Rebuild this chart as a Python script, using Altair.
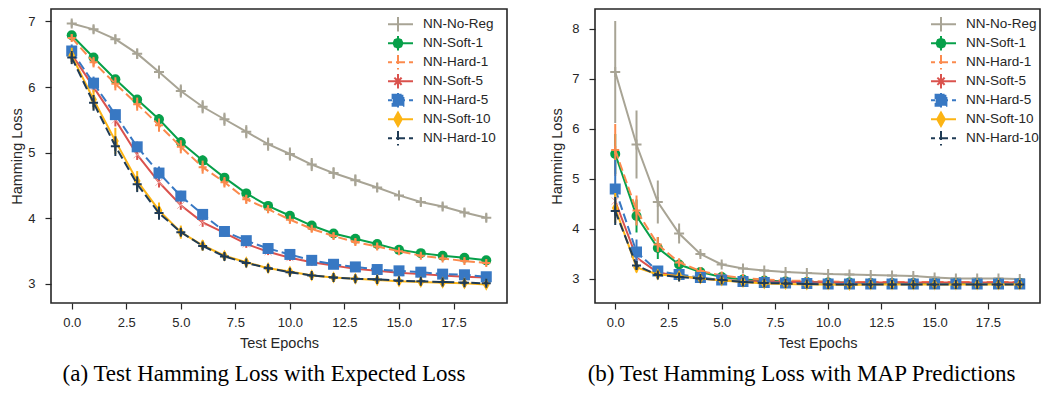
import altair as alt
import pandas as pd

series = ["NN-No-Reg", "NN-Soft-1", "NN-Hard-1", "NN-Soft-5", "NN-Hard-5", "NN-Soft-10", "NN-Hard-10"]
epochs = list(range(20))

# ---- panel (a): expected loss ----
a_noreg = [6.97, 6.88, 6.73, 6.51, 6.23, 5.94, 5.70, 5.51, 5.32, 5.13, 4.98, 4.82, 4.69, 4.58, 4.47, 4.35, 4.25, 4.18, 4.09, 4.01]
a_soft1 = [6.79, 6.45, 6.12, 5.81, 5.51, 5.16, 4.88, 4.62, 4.38, 4.19, 4.04, 3.89, 3.77, 3.69, 3.61, 3.52, 3.47, 3.43, 3.40, 3.36]
a_hard1 = [6.75, 6.38, 6.05, 5.74, 5.42, 5.09, 4.78, 4.55, 4.29, 4.14, 3.98, 3.84, 3.73, 3.64, 3.57, 3.50, 3.43, 3.39, 3.35, 3.32]
a_soft5 = [6.50, 6.00, 5.50, 4.97, 4.55, 4.20, 3.94, 3.78, 3.61, 3.49, 3.40, 3.33, 3.28, 3.23, 3.20, 3.17, 3.15, 3.13, 3.11, 3.10]
a_hard5 = [6.55, 6.06, 5.58, 5.09, 4.69, 4.34, 4.06, 3.80, 3.66, 3.54, 3.45, 3.36, 3.30, 3.26, 3.22, 3.20, 3.18, 3.15, 3.14, 3.11]
a_soft10 = [6.48, 5.81, 5.18, 4.57, 4.12, 3.79, 3.59, 3.43, 3.33, 3.24, 3.19, 3.13, 3.10, 3.08, 3.06, 3.04, 3.03, 3.02, 3.01, 2.99]
a_hard10 = [6.45, 5.76, 5.10, 4.52, 4.08, 3.79, 3.58, 3.42, 3.32, 3.24, 3.18, 3.13, 3.10, 3.08, 3.07, 3.05, 3.04, 3.03, 3.02, 3.01]

a_noreg_err = [0.05, 0.06, 0.07, 0.08, 0.10, 0.10, 0.10, 0.10, 0.10, 0.10, 0.10, 0.10, 0.09, 0.09, 0.07, 0.07, 0.06, 0.06, 0.06, 0.06]
a_soft1_err = [0.04, 0.05, 0.06, 0.07, 0.08, 0.08, 0.08, 0.07, 0.07, 0.06, 0.06, 0.05, 0.05, 0.05, 0.04, 0.04, 0.04, 0.04, 0.04, 0.04]
a_hard1_err = [0.05, 0.08, 0.10, 0.10, 0.10, 0.10, 0.10, 0.08, 0.07, 0.06, 0.06, 0.05, 0.05, 0.05, 0.05, 0.04, 0.04, 0.04, 0.04, 0.04]
a_soft5_err = [0.05, 0.08, 0.10, 0.08, 0.08, 0.07, 0.07, 0.06, 0.06, 0.05, 0.05, 0.05, 0.04, 0.04, 0.04, 0.04, 0.04, 0.04, 0.04, 0.04]
a_hard5_err = [0.10, 0.10, 0.08, 0.08, 0.10, 0.08, 0.06, 0.06, 0.06, 0.05, 0.05, 0.05, 0.04, 0.04, 0.04, 0.04, 0.04, 0.04, 0.04, 0.04]
a_soft10_err = [0.12, 0.15, 0.20, 0.15, 0.12, 0.10, 0.08, 0.06, 0.06, 0.05, 0.05, 0.05, 0.04, 0.04, 0.04, 0.04, 0.04, 0.04, 0.04, 0.04]
a_hard10_err = [0.10, 0.12, 0.15, 0.12, 0.10, 0.06, 0.05, 0.05, 0.04, 0.04, 0.04, 0.04, 0.04, 0.04, 0.04, 0.04, 0.04, 0.04, 0.04, 0.04]

# ---- panel (b): MAP predictions ----
b_noreg = [7.13, 5.68, 4.53, 3.90, 3.49, 3.28, 3.20, 3.16, 3.13, 3.11, 3.09, 3.08, 3.07, 3.06, 3.05, 3.02, 3.00, 3.00, 3.00, 2.99]
b_soft1 = [5.49, 4.25, 3.61, 3.28, 3.13, 3.03, 2.98, 2.96, 2.94, 2.93, 2.92, 2.92, 2.91, 2.91, 2.91, 2.91, 2.91, 2.91, 2.91, 2.91]
b_hard1 = [5.57, 4.36, 3.68, 3.32, 3.15, 3.06, 3.01, 2.98, 2.96, 2.95, 2.94, 2.93, 2.93, 2.93, 2.93, 2.93, 2.93, 2.93, 2.93, 2.93]
b_soft5 = [4.55, 3.42, 3.12, 3.05, 3.00, 2.97, 2.95, 2.94, 2.93, 2.93, 2.92, 2.92, 2.92, 2.92, 2.92, 2.92, 2.92, 2.92, 2.92, 2.92]
b_hard5 = [4.79, 3.53, 3.15, 3.08, 3.02, 2.97, 2.94, 2.92, 2.91, 2.90, 2.89, 2.89, 2.89, 2.89, 2.89, 2.89, 2.89, 2.89, 2.89, 2.89]
b_soft10 = [4.41, 3.22, 3.08, 3.05, 3.00, 2.96, 2.93, 2.90, 2.89, 2.88, 2.88, 2.87, 2.88, 2.88, 2.88, 2.88, 2.88, 2.88, 2.88, 2.88]
b_hard10 = [4.35, 3.26, 3.07, 3.03, 3.00, 2.97, 2.93, 2.91, 2.90, 2.89, 2.88, 2.88, 2.88, 2.88, 2.88, 2.88, 2.88, 2.88, 2.88, 2.88]

b_noreg_err = [1.02, 0.68, 0.43, 0.20, 0.05, 0.04, 0.03, 0.03, 0.03, 0.03, 0.03, 0.03, 0.03, 0.03, 0.03, 0.03, 0.03, 0.03, 0.03, 0.03]
b_soft1_err = [0.40, 0.33, 0.22, 0.10, 0.05, 0.04, 0.03, 0.03, 0.03, 0.03, 0.03, 0.03, 0.03, 0.03, 0.03, 0.03, 0.03, 0.03, 0.03, 0.03]
b_hard1_err = [0.52, 0.30, 0.15, 0.08, 0.05, 0.04, 0.03, 0.03, 0.03, 0.03, 0.03, 0.03, 0.03, 0.03, 0.03, 0.03, 0.03, 0.03, 0.03, 0.03]
b_soft5_err = [0.15, 0.10, 0.05, 0.04, 0.03, 0.03, 0.03, 0.03, 0.03, 0.03, 0.03, 0.03, 0.03, 0.03, 0.03, 0.03, 0.03, 0.03, 0.03, 0.03]
b_hard5_err = [0.58, 0.25, 0.08, 0.05, 0.04, 0.03, 0.03, 0.03, 0.03, 0.03, 0.03, 0.03, 0.03, 0.03, 0.03, 0.03, 0.03, 0.03, 0.03, 0.03]
b_soft10_err = [0.30, 0.10, 0.05, 0.04, 0.03, 0.03, 0.03, 0.03, 0.03, 0.03, 0.03, 0.03, 0.03, 0.03, 0.03, 0.03, 0.03, 0.03, 0.03, 0.03]
b_hard10_err = [0.28, 0.08, 0.05, 0.04, 0.03, 0.03, 0.03, 0.03, 0.03, 0.03, 0.03, 0.03, 0.03, 0.03, 0.03, 0.03, 0.03, 0.03, 0.03, 0.03]

x_ticks = [0.0, 2.5, 5.0, 7.5, 10.0, 12.5, 15.0, 17.5]
a_yticks = [3, 4, 5, 6, 7]
b_yticks = [3, 4, 5, 6, 7, 8]
caption_a = "(a) Test Hamming Loss with Expected Loss"
caption_b = "(b) Test Hamming Loss with MAP Predictions"

# ---- styles ----
colors = ["#a8a495", "#07a04a", "#fb8a4d", "#da524d", "#3878c3", "#fcb414", "#1f3b55"]
dashes = [None, None, [9, 4], None, [9, 4], None, [9, 4]]
PLUS = "M-1,0L1,0M0,-1L0,1"
XSHAPE = "M-1,-1L1,1M-1,1L1,-1"
DIAMOND = "M0,-1L0.55,0L0,1L-0.55,0Z"
markers = [
    dict(shape=PLUS, filled=False, size=100, strokeWidth=2, color=colors[0]),
    dict(shape="circle", filled=True, size=100, color=colors[1]),
    dict(shape=PLUS, filled=False, size=64, strokeWidth=2, color=colors[2]),
    dict(shape=XSHAPE, filled=False, size=50, strokeWidth=1, color="#f3a9a7"),
    dict(shape="square", filled=True, size=121, color=colors[4]),
    dict(shape=DIAMOND, filled=True, size=150, color=colors[5]),
    dict(shape=PLUS, filled=False, size=81, strokeWidth=2, color=colors[6]),
]
LINE = "M-1.667,0L1.667,0M0,-0.8L0,0.8"
OCT = "M0.5,0L0.35,0.35L0,0.5L-0.35,0.35L-0.5,0L-0.35,-0.35L0,-0.5L0.35,-0.35Z"
legend_paths = [
    LINE,
    LINE + OCT,
    LINE,
    LINE + "M-0.4,-0.4L0.4,0.4M-0.4,0.4L0.4,-0.4",
    LINE + "M-0.6,-0.6L0.6,-0.6L0.6,0.6L-0.6,0.6Z",
    LINE + "M0,-0.75L0.42,0L0,0.75L-0.42,0Z",
    LINE,
]
legend_dashes = [[1, 0] if d is None else d for d in dashes]

FONT = "Liberation Sans"
TXT = "#262626"


def build_df(means, errs):
    rows = []
    for s, m, e in zip(series, means, errs):
        for ep, v, er in zip(epochs, m, e):
            rows.append({"series": s, "epoch": ep, "mean": v, "lo": v - er, "hi": v + er})
    return pd.DataFrame(rows)


def panel(df, ydomain, yticks, caption, width, height, legx, legy, ytitlepad, capdx):
    xs = alt.Scale(domain=[-0.95, 19.95], nice=False, zero=False)
    ys = alt.Scale(domain=ydomain, nice=False, zero=False)
    xax = alt.Axis(values=x_ticks, format=".1f", title="Test Epochs")
    yax = alt.Axis(values=yticks, format="d", title="Hamming Loss", titlePadding=ytitlepad)
    x = alt.X("epoch:Q", scale=xs, axis=xax)
    y = alt.Y("mean:Q", scale=ys, axis=yax)
    base = alt.Chart(df)
    layers = []
    for i, s in enumerate(series):
        d = base.transform_filter(alt.datum.series == s)
        lkw = dict(color=colors[i], strokeWidth=2)
        if dashes[i] is not None:
            lkw["strokeDash"] = dashes[i]
        err = d.mark_rule(color=colors[i], strokeWidth=2).encode(
            x=x, y=alt.Y("lo:Q", scale=ys, axis=yax), y2="hi:Q")
        line = d.mark_line(**lkw).encode(x=x, y=y)
        pts = d.mark_point(opacity=1, **markers[i]).encode(x=x, y=y)
        layers += [line, err, pts]
    leg = alt.Legend(title=None, orient="none", legendX=legx, legendY=legy,
                     symbolSize=324, symbolStrokeWidth=2, labelFont=FONT,
                     labelFontSize=13.5, labelColor=TXT, labelOffset=15,
                     rowPadding=0, clipHeight=18.5, padding=0)
    legend_layer = base.transform_filter("false").mark_point(filled=True, opacity=1).encode(
        x=x, y=y,
        color=alt.Color("series:N", scale=alt.Scale(domain=series, range=colors), legend=leg),
        stroke=alt.Stroke("series:N", scale=alt.Scale(domain=series, range=colors), legend=leg),
        shape=alt.Shape("series:N", scale=alt.Scale(domain=series, range=legend_paths), legend=leg),
        strokeDash=alt.StrokeDash("series:N", scale=alt.Scale(domain=series, range=legend_dashes), legend=leg),
    )
    layers.append(legend_layer)
    return alt.layer(*layers).properties(
        width=width, height=height,
        title=alt.TitleParams(caption, orient="bottom", anchor="middle", font="Liberation Serif",
                              fontSize=23, fontWeight="normal", color="black", offset=13, dx=capdx),
    )


left = panel(build_df([a_noreg, a_soft1, a_hard1, a_soft5, a_hard5, a_soft10, a_hard10],
                      [a_noreg_err, a_soft1_err, a_hard1_err, a_soft5_err, a_hard5_err, a_soft10_err, a_hard10_err]),
             [2.71, 7.19], a_yticks, caption_a, 456, 294, 337, 6, 3, -15)
right = panel(build_df([b_noreg, b_soft1, b_hard1, b_soft5, b_hard5, b_soft10, b_hard10],
                       [b_noreg_err, b_soft1_err, b_hard1_err, b_soft5_err, b_hard5_err, b_soft10_err, b_hard10_err]),
              [2.51, 8.39], b_yticks, caption_b, 445, 294, 336, 6, 7, -16)

chart = alt.hconcat(left, right, spacing=40).resolve_scale(
    color="independent", shape="independent", stroke="independent", strokeDash="independent"
).configure(padding=0, background="white").configure_view(
    stroke=TXT, strokeWidth=1.6
).configure_axis(
    grid=False, domain=False, tickColor=TXT, tickSize=6, tickWidth=1.2,
    labelFont=FONT, labelFontSize=13, labelColor=TXT,
    titleFont=FONT, titleFontSize=14.5, titleFontWeight="normal", titleColor=TXT,
).configure_axisY(labelPadding=10).configure_axisX(labelPadding=7, titlePadding=7)

chart.save("out.html", embed_options={"renderer": "svg", "actions": False})
